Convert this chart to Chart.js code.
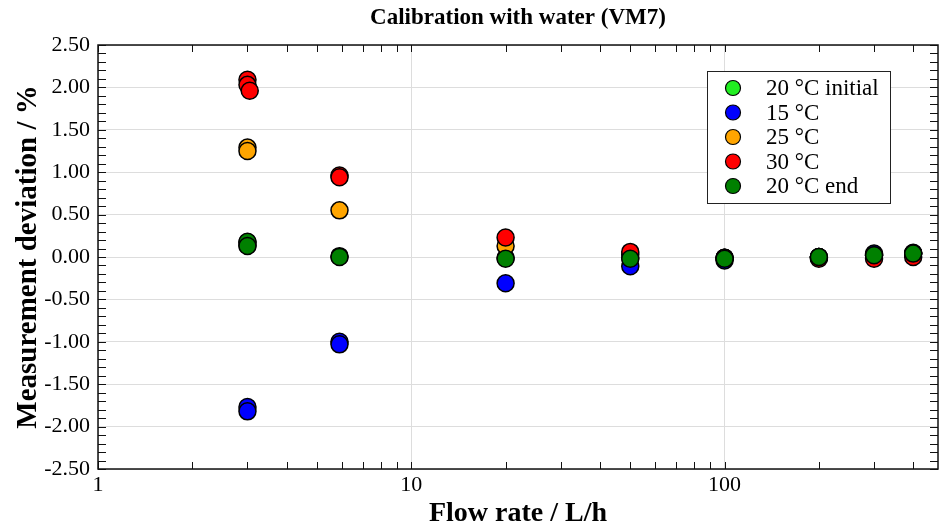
<!DOCTYPE html>
<html>
<head>
<meta charset="utf-8">
<script src="https://cdn.jsdelivr.net/npm/chart.js@4"></script>
<style>
  html, body { margin: 0; padding: 0; background: #fff; overflow: hidden; }
  canvas { display: block; }
</style>
</head>
<body>
<canvas id="myChart" width="939" height="532"></canvas>
<script>
// Flow rates (L/h), shared by all series; null = no point
const flowRates = [3, 3, 3.05, 5.9, 5.9, 20, 50, 100, 200, 300, 400];

// Measurement deviation (%) per temperature run
const dev20Initial = [0.17, 0.14, null, 0.01, null, -0.01, -0.01, -0.01, 0.00, 0.02, 0.04];
const dev15 = [-1.77, -1.82, null, -1.00, -1.03, -0.31, -0.11, -0.04, 0.00, 0.04, 0.05];
const dev25 = [1.29, 1.25, null, 0.55, null, 0.13, 0.03, -0.01, 0.00, 0.02, 0.04];
const dev30 = [2.09, 2.03, 1.96, 0.96, 0.94, 0.23, 0.06, -0.01, -0.02, -0.02, 0.00];
const dev20End = [0.18, 0.13, null, 0.00, null, -0.02, -0.02, -0.02, 0.00, 0.02, 0.04];

const seriesNames = ['20 °C initial', '15 °C', '25 °C', '30 °C', '20 °C end'];
const seriesColors = ['#22ee22', '#0000ff', '#ffa500', '#ff0000', '#008000'];
const seriesValues = [dev20Initial, dev15, dev25, dev30, dev20End];

const xMajorTicks = [1, 10, 100];

const serif = "'Liberation Serif', 'Times New Roman', serif";

function toPoints(values) {
    const pts = [];
    values.forEach((v, i) => {
        if (v !== null) pts.push({ x: flowRates[i], y: v });
    });
    return pts;
}

// Frame, inward ticks, title and legend
const framePlugin = {
    id: 'frame',
    afterDraw(chart) {
        const ctx = chart.ctx;
        const a = chart.chartArea;
        const xs = chart.scales.x;
        const ys = chart.scales.y;
        ctx.save();
        ctx.strokeStyle = '#111';
        ctx.lineWidth = 1;

        // y ticks every 0.1
        ctx.beginPath();
        for (let k = -25; k <= 25; k++) {
            const py = Math.round(ys.getPixelForValue(k / 10)) + 0.5;
            ctx.moveTo(a.left, py); ctx.lineTo(a.left + 8, py);
            ctx.moveTo(a.right, py); ctx.lineTo(a.right - 8, py);
        }
        // x log ticks
        for (let dec = 1; dec <= 100; dec *= 10) {
            for (let m = 1; m <= 9; m++) {
                const v = dec * m;
                if (v > xs.max) continue;
                const px = Math.round(xs.getPixelForValue(v)) + 0.5;
                ctx.moveTo(px, a.bottom); ctx.lineTo(px, a.bottom - 7);
                ctx.moveTo(px, a.top); ctx.lineTo(px, a.top + 7);
            }
        }
        ctx.stroke();

        ctx.lineWidth = 1.5;
        ctx.strokeRect(a.left, a.top, a.right - a.left, a.bottom - a.top);

        // title
        ctx.fillStyle = '#000';
        ctx.font = 'bold 23px ' + serif;
        ctx.textAlign = 'center';
        ctx.textBaseline = 'middle';
        ctx.fillText('Calibration with water (VM7)', (a.left + a.right) / 2, 18);

        // legend
        const lx = 707, ly = 71, lw = 183, lh = 132;
        ctx.fillStyle = '#fff';
        ctx.fillRect(lx, ly, lw, lh);
        ctx.strokeStyle = '#222';
        ctx.lineWidth = 1;
        ctx.strokeRect(lx + 0.5, ly + 0.5, lw, lh);
        ctx.font = '23px ' + serif;
        ctx.textAlign = 'left';
        seriesNames.forEach((name, i) => {
            const cy = 88 + i * 24.5;
            ctx.beginPath();
            ctx.arc(733, cy, 7.5, 0, Math.PI * 2);
            ctx.fillStyle = seriesColors[i];
            ctx.fill();
            ctx.lineWidth = 1.2;
            ctx.strokeStyle = '#000';
            ctx.stroke();
            ctx.fillStyle = '#000';
            ctx.fillText(name, 766, cy + 1);
        });
        ctx.restore();
    }
};

const ctx = document.getElementById('myChart').getContext('2d');
new Chart(ctx, {
    type: 'scatter',
    data: {
        datasets: seriesNames.map((name, i) => ({
            label: name,
            data: toPoints(seriesValues[i]),
            backgroundColor: seriesColors[i],
            borderColor: '#000',
            borderWidth: 1.5,
            pointRadius: 8.5,
            pointHoverRadius: 8.5,
            order: seriesNames.length - i // later series on top
        }))
    },
    options: {
        responsive: false,
        animation: false,
        layout: { autoPadding: false, padding: { top: 45, right: 1 } },
        plugins: {
            legend: { display: false },
            title: { display: false },
            tooltip: { enabled: false }
        },
        scales: {
            x: {
                type: 'logarithmic',
                min: 1,
                max: 480,
                afterBuildTicks: scale => {
                    scale.ticks = xMajorTicks.map(v => ({ value: v }));
                },
                afterFit: scale => { scale.height = 63; },
                border: { display: false },
                grid: { color: '#dddddd', drawTicks: false },
                ticks: {
                    color: '#000',
                    padding: 3,
                    maxRotation: 0,
                    font: { family: serif, size: 22 },
                    callback: v => String(v)
                },
                title: {
                    display: true,
                    text: 'Flow rate / L/h',
                    color: '#000',
                    padding: { top: 0, bottom: 1 },
                    font: { family: serif, size: 28, weight: 'bold' }
                }
            },
            y: {
                min: -2.5,
                max: 2.5,
                afterFit: scale => { scale.width = 98; },
                border: { display: false },
                grid: { color: '#dddddd', drawTicks: false },
                ticks: {
                    stepSize: 0.5,
                    color: '#000',
                    padding: 8,
                    font: { family: serif, size: 22 },
                    callback: v => v.toFixed(2)
                },
                title: {
                    display: true,
                    text: 'Measurement deviation / %',
                    color: '#000',
                    padding: { top: 11, bottom: 0 },
                    font: { family: serif, size: 29, weight: 'bold' }
                }
            }
        }
    },
    plugins: [framePlugin]
});
</script>
</body>
</html>
